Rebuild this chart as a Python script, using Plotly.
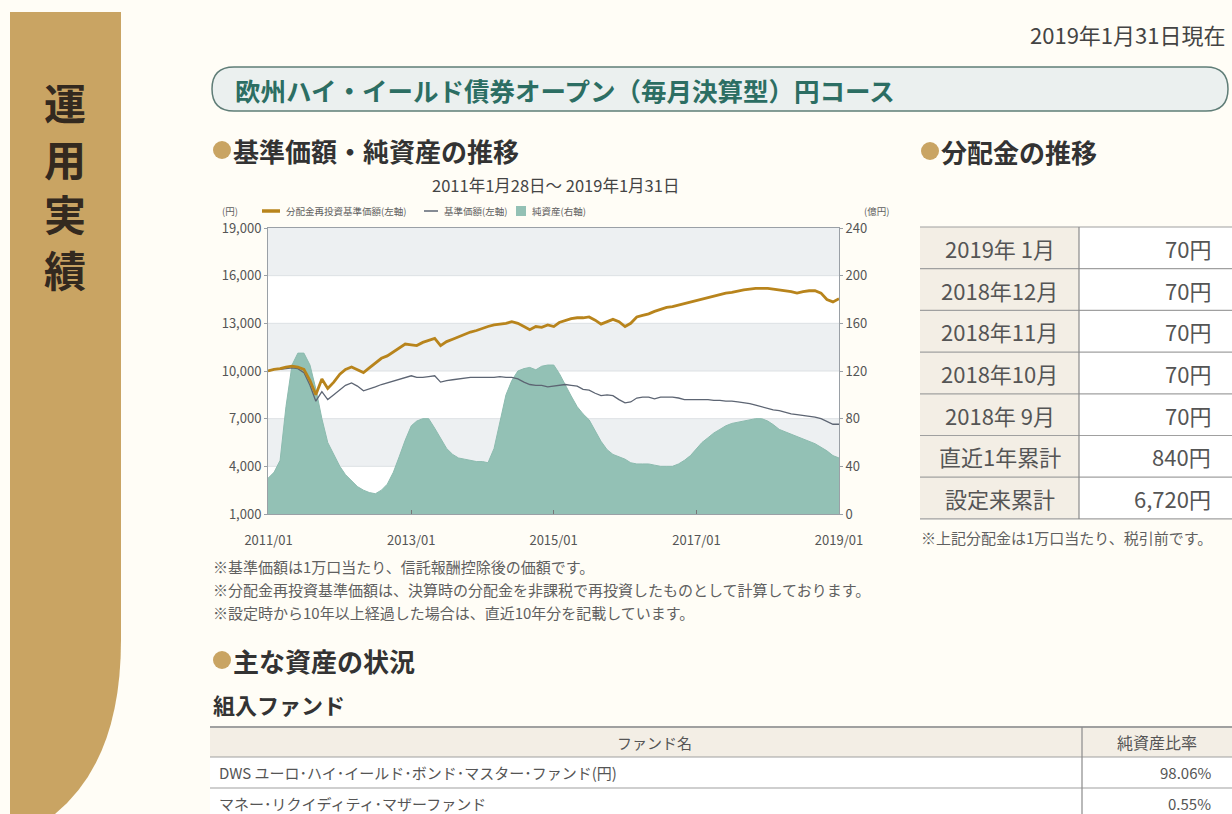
import calendar
import plotly.graph_objects as go

W, H = 1232, 814
FONT = "Noto Sans CJK JP"


def fx(x):
    return x / W


def fy(y):
    return 1 - y / H


# ---------------- data ----------------
# month-end dates Jan 2011 .. Jan 2019 (first point = 2011-01-28)
dates = []
for yr in range(2011, 2020):
    for mo in range(1, 13):
        if yr == 2019 and mo > 1:
            break
        dates.append(f"{yr}-{mo:02d}-{calendar.monthrange(yr, mo)[1]:02d}")
dates[0] = "2011-01-28"

reinvest_nav = [
    10000, 10100, 10150, 10250, 10300, 10250, 10100, 9400, 8500, 9500, 8900, 9300,
    9800, 10100, 10250, 10100, 9900, 10200, 10500, 10800, 10950, 11200, 11400, 11700,
    11650, 11600, 11800, 11900, 12050, 11600, 11850, 12000, 12150, 12300, 12450, 12550,
    12700, 12800, 12900, 12950, 13000, 13100, 13000, 12800, 12600, 12800, 12750, 12900,
    12800, 13050, 13200, 13300, 13350, 13350, 13400, 13200, 12950, 13100, 13250, 13100,
    12800, 13000, 13400, 13500, 13600, 13750, 13900, 14000, 14050, 14150, 14250, 14350,
    14450, 14550, 14650, 14750, 14850, 14900, 14950, 15050, 15100, 15150, 15200, 15200,
    15200, 15150, 15100, 15050, 15000, 14900, 15000, 15050, 15050, 14900, 14500, 14350,
    14550,
]
nav = [
    10000, 10100, 10100, 10150, 10200, 10150, 9900, 9100, 8100, 8700, 8200, 8500,
    8800, 9100, 9250, 9050, 8750, 8850, 9000, 9150, 9250, 9350, 9450, 9600,
    9700, 9600, 9600, 9650, 9700, 9300, 9400, 9450, 9500, 9550, 9600, 9600,
    9600, 9600, 9600, 9650, 9600, 9600, 9500, 9300, 9150, 9100, 9100, 9000,
    9050, 9100, 9150, 9100, 9050, 8850, 8800, 8600, 8450, 8500, 8450, 8200,
    8000, 8050, 8300, 8350, 8350, 8250, 8350, 8350, 8350, 8300, 8200, 8200,
    8200, 8200, 8200, 8150, 8150, 8100, 8100, 8050, 8000, 7950, 7850, 7750,
    7650, 7550, 7500, 7400, 7300, 7250, 7200, 7150, 7100, 7000, 6850, 6650,
    6650,
]
net_assets = [
    30, 35, 45, 90, 125, 135, 135, 125, 105, 80, 60, 50,
    40, 33, 28, 23, 20, 18, 17, 20, 25, 35, 48, 62,
    74, 78, 80, 80, 72, 64, 55, 50, 47, 46, 45, 44,
    44, 43, 55, 78, 100, 112, 120, 122, 123, 121, 124, 125,
    125, 118, 108, 99, 90, 84, 79, 70, 61, 54, 50, 48,
    46, 43, 42, 42, 42, 41, 40, 40, 40, 42, 45, 49,
    55, 60, 64, 68, 71, 74, 76, 77, 78, 79, 80, 80,
    78, 75, 71, 69, 67, 65, 63, 61, 59, 56, 53, 49,
    47,
]

left_ticks = [1000, 4000, 7000, 10000, 13000, 16000, 19000]
right_ticks = [0, 40, 80, 120, 160, 200, 240]
x_tickvals = ["2011-01-31", "2013-01-31", "2015-01-30", "2017-01-31", "2019-01-31"]
x_ticktext = ["2011/01", "2013/01", "2015/01", "2017/01", "2019/01"]

div_labels = ["2019年 1月", "2018年12月", "2018年11月", "2018年10月", "2018年 9月", "直近1年累計", "設定来累計"]
div_amounts = [70, 70, 70, 70, 70, 840, 6720]

fund_names = ["DWS ユーロ･ハイ･イールド･ボンド･マスター･ファンド(円)", "マネー･リクイディティ･マザーファンド"]
fund_ratios = [98.06, 0.55]

footnotes = [
    "※基準価額は1万口当たり、信託報酬控除後の価額です。",
    "※分配金再投資基準価額は、決算時の分配金を非課税で再投資したものとして計算しております。",
    "※設定時から10年以上経過した場合は、直近10年分を記載しています。",
]

# ---------------- colours ----------------
PAGE = "#fffdf6"
GOLD = "#c9a463"
ORANGE = "#b8841c"
GREY_LINE = "#5d6573"
AREA = "#93c1b5"
BAND = "#edf0f2"
TEXT = "#333333"
SUB = "#606060"
BEIGE = "#f3eee5"
RULE = "#a0a0a0"

fig = go.Figure()

fig.add_trace(go.Scatter(
    x=dates, y=net_assets, yaxis="y", mode="lines", fill="tozeroy",
    line=dict(color="#8cbbaf", width=1), fillcolor=AREA, name="純資産(右軸)",
    showlegend=False, hoverinfo="skip"))
fig.add_trace(go.Scatter(
    x=dates, y=nav, yaxis="y2", mode="lines",
    line=dict(color=GREY_LINE, width=1.3), name="基準価額(左軸)", showlegend=False))
fig.add_trace(go.Scatter(
    x=dates, y=reinvest_nav, yaxis="y2", mode="lines",
    line=dict(color=ORANGE, width=2.8), name="分配金再投資基準価額(左軸)", showlegend=False))

x0p, x1p, y0p, y1p = 268, 839, 228, 514
tickfont = dict(family=FONT, size=13, color="#555555")

fig.update_layout(
    width=W, height=H,
    margin=dict(l=0, r=0, t=0, b=0, autoexpand=False),
    paper_bgcolor=PAGE,
    plot_bgcolor="#ffffff",
    showlegend=False,
    xaxis=dict(
        domain=[fx(x0p), fx(x1p)], type="date",
        range=["2011-01-28", "2019-01-31"],
        tickvals=x_tickvals, ticktext=x_ticktext, tickfont=tickfont,
        ticks="inside", ticklen=4, tickcolor="#777777", ticklabelstandoff=14,
        showgrid=False, showline=True, linecolor="#9aa0a6", linewidth=1, mirror=True,
        zeroline=False, fixedrange=True, automargin=False,
    ),
    yaxis=dict(
        domain=[fy(y1p), fy(y0p)], side="right", range=[0, 240],
        tickvals=right_ticks, tickfont=tickfont, ticks="outside", ticklen=3,
        tickcolor="#9aa0a6", showgrid=False, showline=True, linecolor="#9aa0a6",
        zeroline=False, anchor="x", automargin=False,
    ),
    yaxis2=dict(
        overlaying="y", side="left", range=[1000, 19000],
        tickvals=left_ticks, tickformat=",", tickfont=tickfont, ticks="outside",
        ticklen=3, tickcolor="#9aa0a6", showgrid=False, showline=True,
        linecolor="#9aa0a6", zeroline=False, anchor="x", automargin=False,
    ),
)

shapes = []
annotations = []

# background bands of chart (between left-axis ticks)
for i in range(len(left_ticks) - 1):
    if (len(left_ticks) - 2 - i) % 2 == 0:
        shapes.append(dict(type="rect", xref="x domain", yref="y2",
                           x0=0, x1=1, y0=left_ticks[i], y1=left_ticks[i + 1],
                           fillcolor=BAND, line=dict(width=0), layer="below"))
for v in left_ticks[1:-1]:
    shapes.append(dict(type="line", xref="x domain", yref="y2", x0=0, x1=1, y0=v, y1=v,
                       line=dict(color="#dde1e4", width=1), layer="below"))


def P(x, y):
    return f"{fx(x):.5f},{fy(y):.5f}"


# left sidebar
shapes.append(dict(
    type="path", xref="paper", yref="paper",
    path=(f"M {P(10, 12)} L {P(121, 12)} L {P(121, 640)} "
          f"Q {P(121, 760)} {P(55, 814)} L {P(10, 814)} Z"),
    fillcolor=GOLD, line=dict(width=0), layer="below"))
for k, ch in enumerate("運用実績"):
    annotations.append(dict(x=fx(65), y=fy(102 + k * 55.5), xref="paper", yref="paper",
                            text=f"<b>{ch}</b>", showarrow=False, xanchor="center",
                            yanchor="middle",
                            font=dict(family=FONT, size=42, color="#33291f")))

# date top right
annotations.append(dict(x=fx(1227), y=fy(34), xref="paper", yref="paper",
                        text="2019年1月31日現在", showarrow=False, xanchor="right",
                        yanchor="middle", font=dict(family=FONT, size=22, color="#444444")))

# banner (rounded pill)
bx0, bx1, by0, by1 = 212, 1228, 67, 111
r = (by1 - by0) / 2
shapes.append(dict(
    type="path", xref="paper", yref="paper",
    path=(f"M {P(bx0 + r, by0)} L {P(bx1 - r, by0)} "
          f"Q {P(bx1, by0)} {P(bx1, (by0 + by1) / 2)} Q {P(bx1, by1)} {P(bx1 - r, by1)} "
          f"L {P(bx0 + r, by1)} Q {P(bx0, by1)} {P(bx0, (by0 + by1) / 2)} "
          f"Q {P(bx0, by0)} {P(bx0 + r, by0)} Z"),
    fillcolor="#ebf0ef", line=dict(color="#5f7d77", width=1.5)))
annotations.append(dict(x=fx(233), y=fy(90), xref="paper", yref="paper",
                        text="<b>欧州ハイ・イールド債券オープン（毎月決算型）円コース</b>",
                        showarrow=False, xanchor="left", yanchor="middle",
                        font=dict(family=FONT, size=25.5, color="#2c6e63")))


def heading(x, y, text, size=26):
    shapes.append(dict(type="circle", xref="paper", yref="paper",
                       x0=fx(x), x1=fx(x + 18), y0=fy(y + 9), y1=fy(y - 9),
                       fillcolor=GOLD, line=dict(width=0)))
    annotations.append(dict(x=fx(x + 18), y=fy(y), xref="paper", yref="paper",
                            text=f"<b>{text}</b>", showarrow=False, xanchor="left",
                            yanchor="middle", font=dict(family=FONT, size=size, color=TEXT)))


heading(213, 150, "基準価額・純資産の推移")
heading(921, 151, "分配金の推移")
heading(213, 660, "主な資産の状況")

annotations.append(dict(x=fx(211), y=fy(704), xref="paper", yref="paper",
                        text="<b>組入ファンド</b>", showarrow=False, xanchor="left",
                        yanchor="middle", font=dict(family=FONT, size=22, color=TEXT)))

# chart sub title
annotations.append(dict(x=fx(555), y=fy(185), xref="paper", yref="paper",
                        text="2011年1月28日～ 2019年1月31日", showarrow=False,
                        xanchor="center", yanchor="middle",
                        font=dict(family=FONT, size=16.5, color="#444444")))

# legend row
LY = 211
lg = dict(family=FONT, size=9.5, color=SUB)
annotations.append(dict(x=fx(230), y=fy(LY), xref="paper", yref="paper", text="(円)",
                        showarrow=False, xanchor="center", yanchor="middle", font=lg))
annotations.append(dict(x=fx(876), y=fy(LY), xref="paper", yref="paper", text="(億円)",
                        showarrow=False, xanchor="center", yanchor="middle", font=lg))
shapes.append(dict(type="line", xref="paper", yref="paper", x0=fx(262), x1=fx(280),
                   y0=fy(LY), y1=fy(LY), line=dict(color=ORANGE, width=3.5)))
annotations.append(dict(x=fx(284), y=fy(LY), xref="paper", yref="paper",
                        text="分配金再投資基準価額(左軸)", showarrow=False,
                        xanchor="left", yanchor="middle", font=lg))
shapes.append(dict(type="line", xref="paper", yref="paper", x0=fx(424), x1=fx(438),
                   y0=fy(LY), y1=fy(LY), line=dict(color=GREY_LINE, width=1.5)))
annotations.append(dict(x=fx(442), y=fy(LY), xref="paper", yref="paper",
                        text="基準価額(左軸)", showarrow=False,
                        xanchor="left", yanchor="middle", font=lg))
shapes.append(dict(type="rect", xref="paper", yref="paper", x0=fx(516), x1=fx(526),
                   y0=fy(LY + 5), y1=fy(LY - 5), fillcolor=AREA, line=dict(width=0)))
annotations.append(dict(x=fx(530), y=fy(LY), xref="paper", yref="paper",
                        text="純資産(右軸)", showarrow=False,
                        xanchor="left", yanchor="middle", font=lg))

# footnotes under chart
for k, t in enumerate(footnotes):
    annotations.append(dict(x=fx(211), y=fy(566 + k * 23), xref="paper", yref="paper",
                            text=t, showarrow=False, xanchor="left", yanchor="middle",
                            font=dict(family=FONT, size=15, color=SUB)))

# dividend table
tx0, tdiv, tx1 = 920, 1079, 1232
ty0, rh = 227, 41.7
for k, (lab, amt) in enumerate(zip(div_labels, div_amounts)):
    top = ty0 + k * rh
    shapes.append(dict(type="rect", xref="paper", yref="paper",
                       x0=fx(tx0), x1=fx(tdiv), y0=fy(top + rh), y1=fy(top),
                       fillcolor=BEIGE, line=dict(width=0), layer="below"))
    shapes.append(dict(type="rect", xref="paper", yref="paper",
                       x0=fx(tdiv), x1=fx(tx1), y0=fy(top + rh), y1=fy(top),
                       fillcolor="#ffffff", line=dict(width=0), layer="below"))
    annotations.append(dict(x=fx((tx0 + tdiv) / 2), y=fy(top + rh / 2), xref="paper",
                            yref="paper", text=lab, showarrow=False, xanchor="center",
                            yanchor="middle", font=dict(family=FONT, size=22, color="#555555")))
    annotations.append(dict(x=fx(1213), y=fy(top + rh / 2), xref="paper",
                            yref="paper", text=f"{amt:,}円", showarrow=False, xanchor="right",
                            yanchor="middle", font=dict(family=FONT, size=22, color="#555555")))
for k in range(len(div_labels) + 1):
    yy = ty0 + k * rh
    shapes.append(dict(type="line", xref="paper", yref="paper", x0=fx(tx0), x1=fx(tx1),
                       y0=fy(yy), y1=fy(yy), line=dict(color=RULE, width=1.2)))
shapes.append(dict(type="line", xref="paper", yref="paper", x0=fx(tdiv), x1=fx(tdiv),
                   y0=fy(ty0), y1=fy(ty0 + rh * len(div_labels)),
                   line=dict(color="#8a8a8a", width=1.2)))
annotations.append(dict(x=fx(919), y=fy(537), xref="paper", yref="paper",
                        text="※上記分配金は1万口当たり、税引前です。", showarrow=False,
                        xanchor="left", yanchor="middle",
                        font=dict(family=FONT, size=15, color=SUB)))

# fund table
fx0, fdiv, fx1 = 210, 1082, 1232
fhead0, fhead1 = 727, 757
frow = 31
shapes.append(dict(type="rect", xref="paper", yref="paper", x0=fx(fx0), x1=fx(fx1),
                   y0=fy(fhead1), y1=fy(fhead0), fillcolor=BEIGE, line=dict(width=0),
                   layer="below"))
shapes.append(dict(type="rect", xref="paper", yref="paper", x0=fx(fx0), x1=fx(fx1),
                   y0=fy(H), y1=fy(fhead1), fillcolor="#ffffff", line=dict(width=0),
                   layer="below"))
annotations.append(dict(x=fx(655), y=fy((fhead0 + fhead1) / 2), xref="paper", yref="paper",
                        text="ファンド名", showarrow=False, xanchor="center", yanchor="middle",
                        font=dict(family=FONT, size=15, color="#555555")))
annotations.append(dict(x=fx(1157), y=fy((fhead0 + fhead1) / 2), xref="paper", yref="paper",
                        text="純資産比率", showarrow=False, xanchor="center", yanchor="middle",
                        font=dict(family=FONT, size=16, color="#555555")))
for k, (nm, rt) in enumerate(zip(fund_names, fund_ratios)):
    top = fhead1 + k * frow
    annotations.append(dict(x=fx(217), y=fy(top + frow / 2), xref="paper", yref="paper",
                            text=nm, showarrow=False, xanchor="left", yanchor="middle",
                            font=dict(family=FONT, size=15, color="#555555")))
    annotations.append(dict(x=fx(1213), y=fy(top + frow / 2), xref="paper", yref="paper",
                            text=f"{rt:.2f}%", showarrow=False, xanchor="right",
                            yanchor="middle", font=dict(family=FONT, size=15, color="#555555")))
for yy in [fhead0, fhead1, fhead1 + frow]:
    shapes.append(dict(type="line", xref="paper", yref="paper", x0=fx(fx0), x1=fx(fx1),
                       y0=fy(yy), y1=fy(yy),
                       line=dict(color=RULE, width=2 if yy == fhead0 else 1.2)))
shapes.append(dict(type="line", xref="paper", yref="paper", x0=fx(fdiv), x1=fx(fdiv),
                   y0=fy(fhead0), y1=fy(H), line=dict(color="#8a8a8a", width=1.2)))

fig.update_layout(shapes=shapes, annotations=annotations)
fig.write_html(
    "out.html",
    config={"displayModeBar": False},
    post_script=f"document.body.style.margin='0';document.body.style.background='{PAGE}';",
)
